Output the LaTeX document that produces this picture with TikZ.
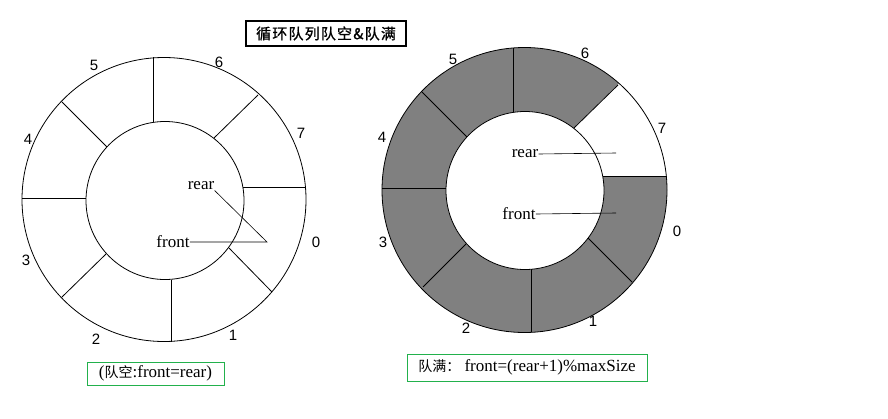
\documentclass[tikz,border=0pt]{standalone}
\usepackage{fontspec}
\setmainfont{Liberation Serif}
\setsansfont{Liberation Sans}
\newfontfamily\cjk{Noto Sans CJK SC}
\newfontfamily\cjktitle[LetterSpace=8,FakeBold=1]{Noto Sans CJK SC}
\usetikzlibrary{calc}
\definecolor{boxgreen}{RGB}{34,177,76}
\definecolor{cellgray}{RGB}{128,128,128}
\tikzset{>=latex}
\newcommand{\slotfont}{\sffamily\fontsize{15}{15}\selectfont}

\begin{document}
\begin{tikzpicture}[x=1pt,y=-1pt,line width=0.8pt,
  slot/.style={font=\slotfont},
  ptr/.style={inner sep=0pt,font=\fontsize{17}{17}\selectfont},
  note/.style={draw=boxgreen,line width=0.8pt,inner sep=0pt,font=\fontsize{17}{17}\selectfont}]
  \useasboundingbox (0,0) rectangle (888,418);
  \node[draw,line width=1.5pt,inner sep=0pt,minimum width=160pt,minimum height=25pt]
  (title) at (326,33.5) {\cjktitle\fontsize{15}{15}\selectfont 循环队列队空\&队满};
  \draw (164,199.5) circle[radius=142pt];
  \draw (165,200.5) circle[radius=79pt];
  \foreach \xa/\ya/\xb/\yb in {153/57/153/122,258/95/214/138,243/187/306/187,229/248/272/292,
    171/280/171/342,106/254/62/297,22/198/86/198,62/102/107/147}
  \draw (\xa,\ya) -- (\xb,\yb);
  \foreach \n/\x/\y in {0/316/242,1/233/335,2/96/339,3/26/260,4/28/139,5/94/65,6/219/62,7/301/133}
  \node[slot] (slotL\n) at (\x,\y) {\n};
  \node[ptr] (rearL) at (201,186) {rear};
  \node[ptr] (frontL) at (173,242) {front};
  \coordinate (tipL) at (267,242);
  \draw[line width=0.6pt] (rearL.south east) -- (tipL) -- (frontL.east);
  \node[note,minimum width=137pt,minimum height=23pt] (emptyq) at (155.5,373.5)
  {({\cjk\fontsize{14}{14}\selectfont 队空}:front=rear)};
  \fill[cellgray] (524.5,190) circle[radius=142.5pt];
  \begin{scope}
    \clip (524.5,190) circle[radius=142.5pt];
    \fill[white] (574,128) -- (640,63) -- (700,63) -- (700,176) -- (603,176) -- cycle;
  \end{scope}
  \fill[white] (525,190.5) circle[radius=79pt];
  \draw (524.5,190) circle[radius=142.5pt];
  \draw (525,190.5) circle[radius=79pt];
  \foreach \xa/\ya/\xb/\yb in {513/48/513/112,618/85/574/128,603/176/667/176,588/238/632/282,
    531/269/531/332,466/244/423/287,382/188/446/188,422/92/467/137}
  \draw (\xa,\ya) -- (\xb,\yb);
  \foreach \n/\x/\y in {0/677/231,1/593/321,2/466/328,3/383/242,4/382/137,5/453/59,6/585/53,7/662/128}
  \node[slot] (slotR\n) at (\x,\y) {\n};
  \node[ptr] (rearR) at (525,154) {rear};
  \node[ptr] (frontR) at (519,214) {front};
  \coordinate (endR) at (616,153);
  \coordinate (endF) at (616,213);
  \draw[line width=0.6pt] (rearR.east) -- (endR);
  \draw[line width=0.6pt] (frontR.east) -- (endF);
  \node[note,minimum width=240pt,minimum height=27pt] (fullq) at (527,367.5)
  {{\cjk\fontsize{14}{14}\selectfont 队满：}\ front=(rear+1)\%maxSize};
\end{tikzpicture}
\end{document}
